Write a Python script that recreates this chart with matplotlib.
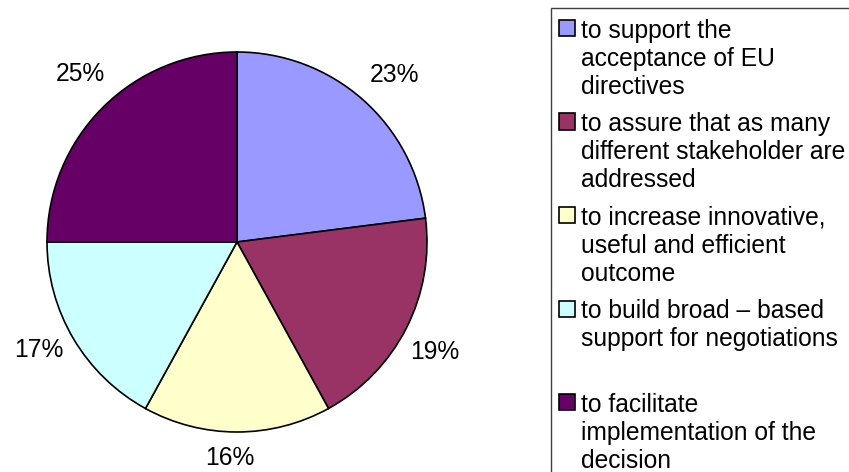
import matplotlib
matplotlib.use("Agg")
import matplotlib.pyplot as plt
import numpy as np
from matplotlib.patches import Rectangle

plt.rcParams["font.family"] = ["Liberation Sans", "DejaVu Sans"]

# data
labels = [
    "to support the\nacceptance of EU\ndirectives",
    "to assure that as many\ndifferent stakeholder are\naddressed",
    "to increase innovative,\nuseful and efficient\noutcome",
    "to build broad \u2013 based\nsupport for negotiations",
    "to facilitate\nimplementation of the\ndecision",
]
shares = [23, 19, 16, 17, 25]
colors = ["#9999FF", "#993366", "#FFFFCC", "#CCFFFF", "#660066"]

W, H = 849, 472
FS = 17.7
fig = plt.figure(figsize=(W / 100, H / 100), dpi=100)

# pie: centre (237, 242) px from top-left, radius ~190 px
cx, cy, r = 237, 242, 190
ax = fig.add_axes([(cx - r) / W, (H - cy - r) / H, 2 * r / W, 2 * r / H])
wedges, _, pcts = ax.pie(
    shares,
    colors=colors,
    startangle=90,
    counterclock=False,
    autopct=lambda p: f"{p:.0f}%",
    pctdistance=1.2,
    wedgeprops=dict(edgecolor="black", linewidth=1.2),
    textprops=dict(fontsize=FS, color="black"),
)
# excel-style outside labels: nudge distance a little per slice
label_dist = [1.21, 1.19, 1.14, 1.19, 1.21]
for w, t, d in zip(wedges, pcts, label_dist):
    ang = np.deg2rad((w.theta1 + w.theta2) / 2 - 2)
    t.set_position((d * np.cos(ang), d * np.sin(ang)))

ax.set_xlim(-1, 1)
ax.set_ylim(-1, 1)
ax.set_aspect("equal")
ax.axis("off")

# legend box, runs off the right and bottom edges like the original
fig.patches.append(Rectangle((551 / W, -0.1), 0.5, (H - 8) / H + 0.1,
                             transform=fig.transFigure, facecolor="white",
                             edgecolor="#404040", linewidth=1.0, zorder=0))

step = 93.5
for i, (lab, col) in enumerate(zip(labels, colors)):
    top = 20 + i * step
    fig.patches.append(Rectangle((559 / W, (H - top - 16) / H), 16 / W, 16 / H,
                                 transform=fig.transFigure, facecolor=col,
                                 edgecolor="black", linewidth=1.2, zorder=2))
    fig.text(581 / W, (H - top + 1) / H, lab, fontsize=FS, va="top",
             ha="left", linespacing=1.2)

fig.savefig("out.png", dpi=100)
